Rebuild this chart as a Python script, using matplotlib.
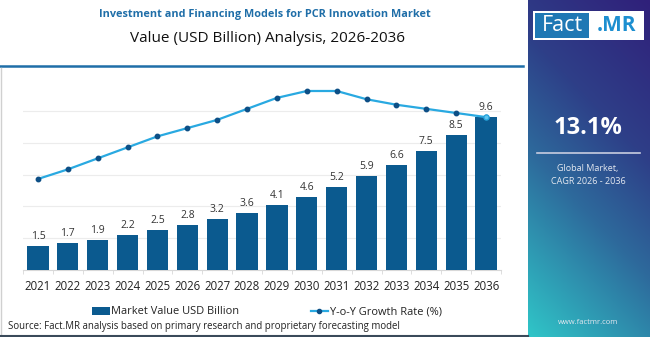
import numpy as np
import matplotlib.pyplot as plt
from matplotlib.lines import Line2D
from matplotlib.patches import Patch, Rectangle

plt.rcParams['font.family'] = ['Open Sans', 'DejaVu Sans']

years = ['2021', '2022', '2023', '2024', '2025', '2026', '2027', '2028',
         '2029', '2030', '2031', '2032', '2033', '2034', '2035', '2036']
market_value = [1.5, 1.7, 1.9, 2.2, 2.5, 2.8, 3.2, 3.6, 4.1, 4.6, 5.2, 5.9, 6.6, 7.5, 8.5, 9.6]
yoy_growth = [10.2, 10.9, 11.7, 12.5, 13.3, 13.9, 14.5, 15.3, 16.1, 16.6, 16.6,
              16.0, 15.6, 15.3, 15.0, 14.7]

cagr_text = '13.1%'
bar_color = '#0b5a8f'
line_color = '#29a9e1'
marker_color = '#0d4f86'

W, H = 650, 337
fig = plt.figure(figsize=(6.5, 3.37), dpi=100)
fig.patch.set_facecolor('white')

# right gradient panel, purple top-right to teal bottom-left
px0 = 528
pan = fig.add_axes([px0 / W, 0, (W - px0) / W, 1])
gy, gx = np.mgrid[0:1:300j, 0:1:100j]
t = np.clip((0.8 * gy + 0.3 * (1 - gx)) / 1.1, 0, 1)
stops = [0.0, 0.35, 0.6, 1.0]
cols = np.array([[48, 32, 122], [46, 63, 136], [45, 106, 156], [48, 198, 200]]) / 255
grad = np.stack([np.interp(t, stops, cols[:, k]) for k in range(3)], axis=-1)
pan.imshow(grad, aspect='auto', extent=[0, 1, 0, 1], origin='upper')
pan.set_xlim(0, 1)
pan.set_ylim(0, 1)
pan.axis('off')

def fx(x):
    return x / W

def fy(y):
    return 1 - y / H

# logo
fig.patches.append(Rectangle((fx(533), fy(40)), fx(111), 29 / H, transform=fig.transFigure,
                             facecolor='white', edgecolor='none', zorder=5))
fig.patches.append(Rectangle((fx(535), fy(38)), fx(54), 25 / H, transform=fig.transFigure,
                             facecolor='#1f78b4', edgecolor='none', zorder=6))
fig.text(fx(562), fy(25.5), 'Fact', color='white', fontsize=15.5, ha='center', va='center', zorder=7)
fig.text(fx(616), fy(25.5), '.MR', color='#1d8fd0', fontsize=15, fontweight='bold',
         ha='center', va='center', zorder=7)
fig.text(fx(588), fy(128), cagr_text, color='white', fontsize=17, fontweight='bold',
         ha='center', va='center')
fig.add_artist(Line2D([fx(537), fx(640)], [fy(153), fy(153)], color='#c8cde0', lw=1.2))
fig.text(fx(588), fy(169), 'Global Market,', color='#e4e8f0', fontsize=6.5, ha='center', va='center')
fig.text(fx(588), fy(182), 'CAGR 2026 - 2036', color='#e4e8f0', fontsize=6.5, ha='center', va='center')
fig.text(fx(588), fy(323), 'www.factmr.com', color='#e4e8f0', fontsize=5.5, ha='center', va='center')

# titles
fig.text(fx(265), fy(15), 'Investment and Financing Models for PCR Innovation Market',
         color='#1f6ea8', fontsize=7.8, fontweight='bold', ha='center', va='center')
fig.text(fx(268), fy(39), 'Value (USD Billion) Analysis, 2026-2036',
         color='#111111', fontsize=11, ha='center', va='center')
fig.add_artist(Line2D([0, fx(523)], [fy(66), fy(66)], color='#1f6ea8', lw=1.8))
fig.add_artist(Line2D([fx(1), fx(1)], [fy(334), fy(68)], color='#d0d0d0', lw=1))
fig.add_artist(Line2D([0, fx(528)], [fy(335.5), fy(335.5)], color='#3a4a5a', lw=1.5))

# main chart
ax = fig.add_axes([fx(23), fy(270), (501 - 23) / W, 190 / H])
x = np.arange(len(years))
bars = ax.bar(x, market_value, width=0.71, color=bar_color, zorder=3)
ax.bar_label(bars, labels=[f'{v:.1f}' for v in market_value], padding=3,
             fontsize=7.5, color='#333333')
ax.set_xlim(-0.5, len(years) - 0.5)
ax.set_ylim(0, 11.95)
ax.set_yticks([2, 4, 6, 8, 10])
ax.yaxis.grid(True, color='#ececec', lw=0.8, zorder=0)
ax.set_yticklabels([])
ax.tick_params(axis='y', length=0)
ax.set_xticks(x)
ax.set_xticklabels(years, fontsize=8.3, color='#222222')
ax.tick_params(axis='x', length=0, pad=7)
ax.set_xticks(np.arange(-0.5, len(years), 1), minor=True)
ax.tick_params(axis='x', which='minor', length=3, color='#d8d8d8')
for s in ['top', 'right', 'left']:
    ax.spines[s].set_visible(False)
ax.spines['bottom'].set_color('#d8d8d8')
ax.patch.set_alpha(0)

ax2 = ax.twinx()
ax2.plot(x, yoy_growth, color=line_color, lw=1.6, marker='o', markersize=3.2,
         markerfacecolor=marker_color, markeredgecolor=marker_color, zorder=4)
ax2.plot(x[-1], yoy_growth[-1], marker='o', markersize=3.6, markerfacecolor='#5fc4ee',
         markeredgecolor=line_color, zorder=5)
ax2.set_ylim(3.58, 17.4)
ax2.axis('off')

handles = [Patch(facecolor=bar_color, edgecolor='none'),
           Line2D([0], [0], color=line_color, lw=1.6, marker='o', markersize=3,
                  markerfacecolor=marker_color, markeredgecolor=marker_color)]
fig.legend(handles, ['Market Value USD Billion', 'Y-o-Y Growth Rate (%)'],
           loc='center', bbox_to_anchor=(fx(267), fy(312)), ncol=2, frameon=False,
           fontsize=7.9, handlelength=1.6, handletextpad=0.15, columnspacing=6.5,
           labelcolor='#222222')

fig.text(fx(8), fy(327), 'Source: Fact.MR analysis based on primary research and proprietary forecasting model',
         fontsize=6.9, color='#222222', ha='left', va='center')

fig.savefig('out.png', dpi=100)
